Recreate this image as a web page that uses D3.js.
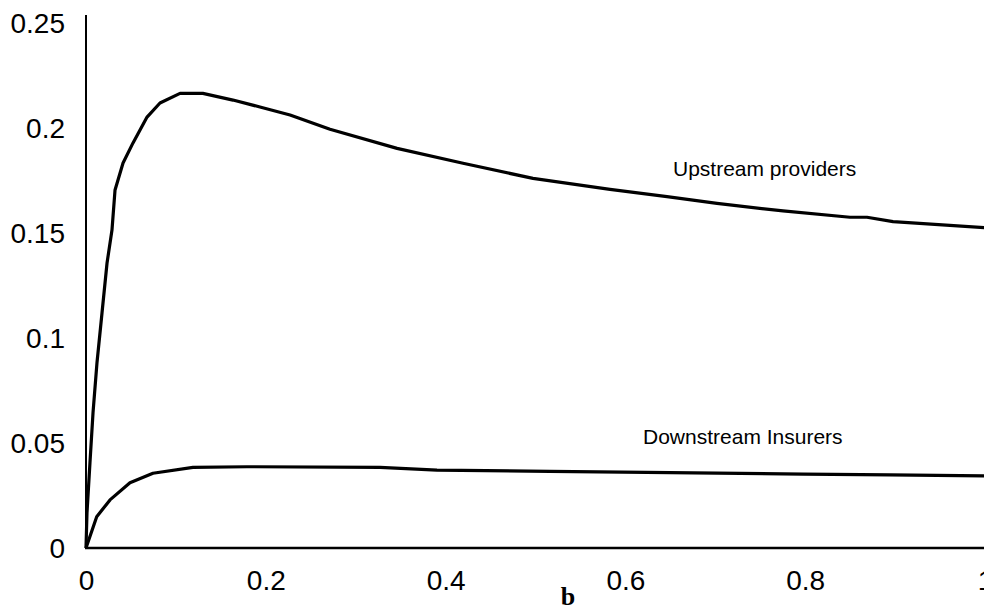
<!DOCTYPE html>
<html>
<head>
<meta charset="utf-8">
<script src="https://cdn.jsdelivr.net/npm/d3@7"></script>
<style>
  html, body { margin: 0; padding: 0; background: #fff; }
  svg { display: block; }
</style>
</head>
<body>
<svg id="chart" width="984" height="611"></svg>
<script>
// Share parameter b along the horizontal axis
const upstreamB = [0, 0.0011, 0.0044, 0.0078, 0.0122, 0.0178, 0.0234, 0.0289, 0.0323, 0.0412,
  0.0523, 0.0679, 0.0823, 0.1046, 0.130, 0.1635, 0.1935, 0.227, 0.2714, 0.346, 0.4194,
  0.4972, 0.5829, 0.6463, 0.7019, 0.7753, 0.8498, 0.8687, 0.8977, 1.0];
const upstreamValues = [0, 0.0167, 0.0405, 0.0643, 0.0881, 0.1119, 0.1357, 0.1514, 0.1705, 0.1833,
  0.1929, 0.2052, 0.2119, 0.2165, 0.2165, 0.2133, 0.2100, 0.2062, 0.1994, 0.1903, 0.1832,
  0.1760, 0.1708, 0.1673, 0.1641, 0.1605, 0.1575, 0.1575, 0.1554, 0.1525];

const downstreamB = [0, 0.0119, 0.0267, 0.0489, 0.0745, 0.119, 0.179, 0.327, 0.3904,
  0.516, 0.65, 0.798, 0.894, 1.0];
const downstreamValues = [0, 0.0149, 0.0229, 0.0311, 0.0356, 0.0384, 0.0387, 0.0384, 0.0371,
  0.0365, 0.0359, 0.0352, 0.0348, 0.0343];

const xTicks = [0, 0.2, 0.4, 0.6, 0.8, 1];
const yTicks = [0, 0.05, 0.1, 0.15, 0.2, 0.25];
const seriesLabels = ["Upstream providers", "Downstream Insurers"];
const xTitle = "b";

const svg = d3.select("#chart");
const x = d3.scaleLinear().domain([0, 1]).range([86, 985]);
const y = d3.scaleLinear().domain([0, 0.25]).range([548, 23]);

// Axis lines
svg.append("line").attr("x1", x(0)).attr("x2", x(0)).attr("y1", 15).attr("y2", y(0))
  .attr("stroke", "#000").attr("stroke-width", 2);
svg.append("line").attr("x1", x(0) - 1).attr("x2", 984).attr("y1", y(0)).attr("y2", y(0))
  .attr("stroke", "#000").attr("stroke-width", 2.5);

// Tick labels via axis generators without tick marks
const yAxis = d3.axisLeft(y).tickValues(yTicks).tickSize(0).tickPadding(0)
  .tickFormat(d => d3.format("~g")(d));
const gy = svg.append("g").attr("transform", "translate(65,0)").call(yAxis);
gy.select(".domain").remove();
gy.selectAll("text").attr("font-family", "Liberation Sans, Arial, sans-serif")
  .attr("font-size", 28).attr("fill", "#000").attr("dy", "0.35em");

const xAxis = d3.axisBottom(x).tickValues(xTicks).tickSize(0).tickPadding(0)
  .tickFormat(d => d3.format("~g")(d));
const gx = svg.append("g").attr("transform", "translate(0,580)").call(xAxis);
gx.select(".domain").remove();
gx.selectAll("text").attr("font-family", "Liberation Sans, Arial, sans-serif")
  .attr("font-size", 28).attr("fill", "#000").attr("dy", "0.35em");

// Series curves
const line = d3.line().x(d => x(d[0])).y(d => y(d[1]));
const upstream = d3.zip(upstreamB, upstreamValues);
const downstream = d3.zip(downstreamB, downstreamValues);
[upstream, downstream].forEach(data => {
  svg.append("path").datum(data).attr("d", line)
    .attr("fill", "none").attr("stroke", "#000").attr("stroke-width", 3.2)
    .attr("stroke-linejoin", "round");
});

// Series annotations
svg.append("text").attr("x", 673).attr("y", 176).text(seriesLabels[0])
  .attr("font-family", "Liberation Sans, Arial, sans-serif").attr("font-size", 21).attr("fill", "#000");
svg.append("text").attr("x", 643).attr("y", 444).text(seriesLabels[1])
  .attr("font-family", "Liberation Sans, Arial, sans-serif").attr("font-size", 21).attr("fill", "#000");

// Axis title
svg.append("text").attr("x", 568).attr("y", 605).attr("text-anchor", "middle").text(xTitle)
  .attr("font-family", "Liberation Serif, Times New Roman, serif").attr("font-weight", "bold")
  .attr("font-size", 26).attr("fill", "#000");
</script>
</body>
</html>
